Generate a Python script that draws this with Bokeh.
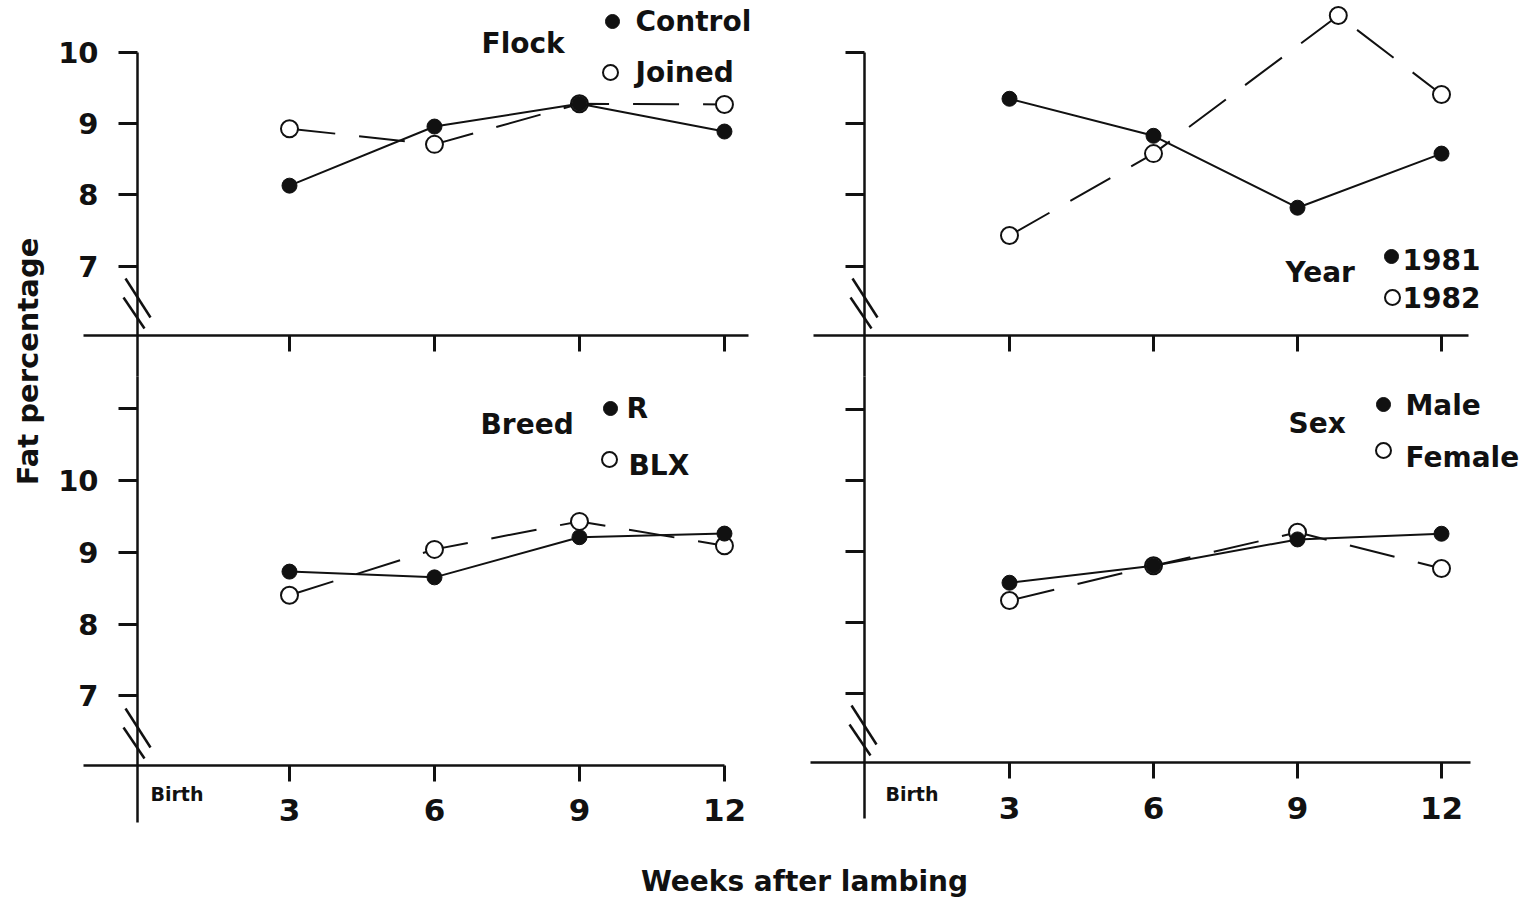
from math import pi

from bokeh.plotting import figure
from bokeh.models import Range1d, LinearAxis, FixedTicker, Label
from bokeh.embed import file_html
from bokeh.resources import INLINE

# ---------------- data ----------------
weeks = [3, 6, 9, 12]
flock_control = [8.13, 8.96, 9.28, 8.89]
flock_joined = [8.93, 8.71, 9.28, 9.27]
year_1981 = [9.35, 8.83, 7.82, 8.58]
year_1982_weeks = [3, 6, 9.85, 12]
year_1982 = [7.43, 8.58, 10.52, 9.41]
breed_r = [8.73, 8.65, 9.21, 9.26]
breed_blx = [8.40, 9.04, 9.43, 9.09]
sex_male = [8.56, 8.80, 9.17, 9.25]
sex_female = [8.31, 8.80, 9.27, 8.76]
y_ticks_top = [7, 8, 9, 10]
y_ticks_bottom = [7, 8, 9, 10, 11]

# ---------------- layout / style ----------------
W, H = 1530, 903
FONT = "DejaVu Sans"
INK = "#111111"


def xr(c0, ppu, v0):
    return Range1d(start=v0 - c0 / ppu, end=v0 + (W - c0) / ppu)


def yr(c0, ppu, v0):
    return Range1d(start=v0 - (H - c0) / ppu, end=v0 + c0 / ppu)


p = figure(width=W, height=H, x_range=Range1d(0, W), y_range=Range1d(H, 0),
           x_axis_type=None, y_axis_type=None, toolbar_location=None,
           output_backend="svg", min_border=0, outline_line_color=None,
           background_fill_color="white", border_fill_color="white")
p.extra_x_ranges = {"L": xr(144, 48.33, 0), "R": xr(865, 48.0, 0)}
p.extra_y_ranges = {"T": yr(52, 71.2, 10), "BL": yr(480, 71.75, 10), "BR": yr(480, 71.0, 10)}


def style_axis(ax, size):
    ax.axis_line_color = INK
    ax.axis_line_width = 2.5
    ax.major_tick_line_color = INK
    ax.major_tick_line_width = 3
    ax.major_tick_in = 0
    ax.minor_tick_line_color = None
    ax.major_label_text_font = FONT
    ax.major_label_text_font_style = "bold"
    ax.major_label_text_font_size = size
    ax.major_label_text_color = INK


def add_axes(xn, yn, yaxis_at, xaxis_at, ybounds, xbounds, yticks, ylab, xlab):
    ya = LinearAxis(x_range_name=xn, y_range_name=yn, fixed_location=yaxis_at,
                    bounds=ybounds, ticker=FixedTicker(ticks=yticks, minor_ticks=[]))
    style_axis(ya, "29px")
    ya.major_tick_out = 19
    ya.major_label_standoff = 20
    ya.major_label_overrides = {t: (str(t) if (ylab and t <= 10) else "") for t in yticks}
    p.add_layout(ya, "left")

    xa = LinearAxis(x_range_name=xn, y_range_name=yn, fixed_location=xaxis_at,
                    bounds=xbounds, ticker=FixedTicker(ticks=weeks, minor_ticks=[]))
    style_axis(xa, "31px")
    xa.major_tick_out = 16
    xa.major_label_standoff = 18
    if not xlab:
        xa.major_label_overrides = {t: "" for t in weeks}
    p.add_layout(xa, "below")


add_axes("L", "T", -0.145, 6.025, (5.45, 10.0), (-1.26, 12.5), y_ticks_top, True, False)
add_axes("R", "T", -0.02, 6.025, (5.45, 10.0), (-1.08, 12.56), y_ticks_top, False, False)
add_axes("L", "BL", -0.145, 6.028, (5.233, 11.449), (-1.26, 12.0), y_ticks_bottom, True, True)
add_axes("R", "BR", -0.02, 6.028, (5.239, 11.465), (-1.15, 12.6), y_ticks_bottom, False, True)


def open_series(xn, yn, xs, ys):
    p.line(xs, ys, x_range_name=xn, y_range_name=yn, line_color=INK, line_width=2,
           line_dash="46 24")
    p.scatter(xs, ys, x_range_name=xn, y_range_name=yn, size=17, marker="circle",
              fill_color="white", line_color=INK, line_width=2)


def filled_series(xn, yn, xs, ys):
    p.line(xs, ys, x_range_name=xn, y_range_name=yn, line_color=INK, line_width=2)
    p.scatter(xs, ys, x_range_name=xn, y_range_name=yn, size=15, marker="circle",
              fill_color=INK, line_color=INK, line_width=1)


open_series("L", "T", weeks, flock_joined)
filled_series("L", "T", weeks, flock_control)
open_series("R", "T", year_1982_weeks, year_1982)
filled_series("R", "T", weeks, year_1981)
open_series("L", "BL", weeks, breed_blx)
filled_series("L", "BL", weeks, breed_r)
open_series("R", "BR", weeks, sex_female)
filled_series("R", "BR", weeks, sex_male)

# axis break marks (pixel coordinates of the canvas)
brk_x0 = [125, 123, 852, 850, 125, 123, 851, 849]
brk_y0 = [278, 297, 278, 297, 708, 727, 705, 724]
brk_x1 = [150, 144, 877, 871, 150, 144, 876, 870]
brk_y1 = [317, 328, 317, 328, 747, 758, 744, 755]
p.segment(x0=brk_x0, y0=brk_y0, x1=brk_x1, y1=brk_y1, line_color=INK, line_width=2.5)

# legend markers
leg_fx = [612, 1391, 610, 1383]
leg_fy = [21, 256, 408, 404]
leg_ox = [610, 1392, 609, 1383]
leg_oy = [72, 297, 459, 450]
p.scatter(leg_fx, leg_fy, size=14, marker="circle", fill_color=INK, line_color=INK)
p.scatter(leg_ox, leg_oy, size=15, marker="circle", fill_color="white",
          line_color=INK, line_width=2)


def txt(x, y, s, size="28px", align="left", angle=0.0):
    p.add_layout(Label(x=x, y=y, text=s, text_font=FONT, text_font_style="bold",
                       text_font_size=size, text_color=INK, text_align=align,
                       text_baseline="middle", angle=angle))


txt(481, 43, "Flock")
txt(635, 21, "Control")
txt(635, 72, "Joined")
txt(1285, 272, "Year")
txt(1402, 259, "1981")
txt(1402, 297, "1982")
txt(480, 424, "Breed")
txt(626, 408, "R")
txt(628, 465, "BLX")
txt(1288, 423, "Sex")
txt(1405, 405, "Male")
txt(1405, 457, "Female")
txt(150, 793, "Birth", size="19px")
txt(885, 793, "Birth", size="19px")
txt(804, 881, "Weeks after lambing", size="28px", align="center")
txt(27, 361, "Fat percentage", size="29px", align="center", angle=pi / 2)

open("out.html", "w").write(file_html(p, INLINE))
